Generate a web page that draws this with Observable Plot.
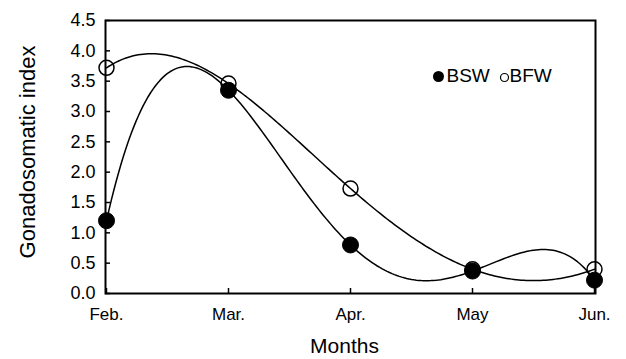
<!DOCTYPE html>
<html>
<head>
<meta charset="utf-8">
<script src="https://cdn.jsdelivr.net/npm/d3@7"></script>
<script src="https://cdn.jsdelivr.net/npm/@observablehq/plot@0.6"></script>
<style>
  html, body { margin: 0; padding: 0; background: #fff; }
  #chart svg { display: block; }
</style>
</head>
<body>
<div id="chart"></div>
<script>
const months = ["Feb.", "Mar.", "Apr.", "May", "Jun."];
const bsw = [1.2, 3.35, 0.8, 0.37, 0.22];
const bfw = [3.72, 3.46, 1.73, 0.4, 0.4];
const yTicks = [0, 0.5, 1, 1.5, 2, 2.5, 3, 3.5, 4, 4.5];
const seriesNames = ["BSW", "BFW"];

const rowsBSW = months.map((m, i) => ({month: m, value: bsw[i]}));
const rowsBFW = months.map((m, i) => ({month: m, value: bfw[i]}));

// Smooth curve: polynomial through all points of the line (rendering style only)
function curvePoly(context) {
  let pts = [];
  return {
    areaStart() {}, areaEnd() {},
    lineStart() { pts = []; },
    point(x, y) { pts.push([+x, +y]); },
    lineEnd() {
      const n = pts.length;
      if (!n) return;
      const f = (x) => {
        let s = 0;
        for (let i = 0; i < n; i++) {
          let l = 1;
          for (let j = 0; j < n; j++) if (j !== i) l *= (x - pts[j][0]) / (pts[i][0] - pts[j][0]);
          s += l * pts[i][1];
        }
        return s;
      };
      const x0 = pts[0][0], x1 = pts[n - 1][0], steps = 200;
      for (let k = 0; k <= steps; k++) {
        const x = x0 + (x1 - x0) * k / steps;
        if (k === 0) context.moveTo(x, f(x)); else context.lineTo(x, f(x));
      }
    }
  };
}

const font = "Liberation Sans, Arial, Helvetica, sans-serif";

const chart = Plot.plot({
  width: 626,
  height: 359,
  marginLeft: 105,
  marginRight: 31,
  marginTop: 20,
  marginBottom: 66,
  style: {fontFamily: font, fontSize: "17px", color: "#000", background: "#fff"},
  x: {type: "point", domain: months, padding: 0},
  y: {domain: [0, 4.5]},
  marks: [
    Plot.axisY({ticks: yTicks, tickSize: -5, tickFormat: () => "", label: null, strokeWidth: 1.5}),
    Plot.axisY({ticks: yTicks, tickSize: 0, tickPadding: 10, tickFormat: d3.format(".1f"), label: null, fontSize: 18}),
    Plot.axisX({tickSize: -5, tickFormat: () => "", label: null, strokeWidth: 1.5}),
    Plot.axisX({tickSize: 0, tickPadding: 14, label: null, fontSize: 17}),
    Plot.frame({stroke: "#000", strokeWidth: 2}),
    Plot.line(rowsBSW, {x: "month", y: "value", curve: curvePoly, stroke: "#000", strokeWidth: 1.5}),
    Plot.line(rowsBFW, {x: "month", y: "value", curve: curvePoly, stroke: "#000", strokeWidth: 1.5}),
    Plot.dot(rowsBSW, {x: "month", y: "value", r: 8, fill: "#000", stroke: "#000", strokeWidth: 1}),
    Plot.dot(rowsBFW, {x: "month", y: "value", r: 7.5, fill: "none", stroke: "#000", strokeWidth: 1.5}),
    // legend
    Plot.dot([seriesNames[0]], {frameAnchor: "top-left", dx: 333, dy: 56, r: 5.5, fill: "#000"}),
    Plot.text([seriesNames[0]], {text: d => d, frameAnchor: "top-left", dx: 341, dy: 55, textAnchor: "start", lineAnchor: "middle", fontSize: 19}),
    Plot.dot([seriesNames[1]], {frameAnchor: "top-left", dx: 399, dy: 57, r: 4, fill: "none", stroke: "#000", strokeWidth: 1.2}),
    Plot.text([seriesNames[1]], {text: d => d, frameAnchor: "top-left", dx: 404, dy: 55, textAnchor: "start", lineAnchor: "middle", fontSize: 19}),
    // axis titles
    Plot.text(["Gonadosomatic index"], {text: d => d, frameAnchor: "left", dx: -78, dy: -5, rotate: -90, textAnchor: "middle", lineAnchor: "middle", fontSize: 22}),
    Plot.text(["Months"], {text: d => d, frameAnchor: "bottom", dx: -6, dy: 53, textAnchor: "middle", lineAnchor: "middle", fontSize: 21})
  ]
});
document.getElementById("chart").appendChild(chart);
</script>
</body>
</html>
